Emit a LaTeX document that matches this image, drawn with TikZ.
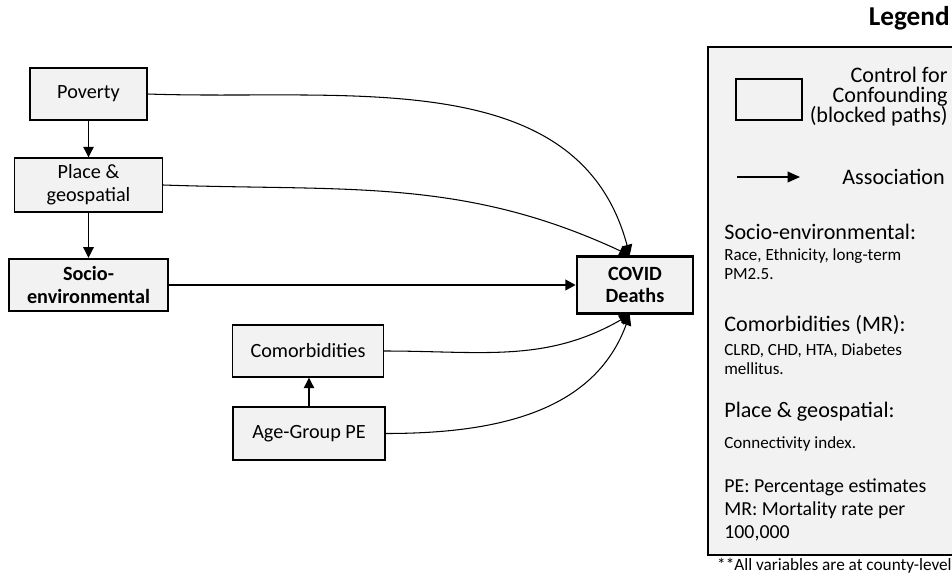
\documentclass[tikz,border=0pt]{standalone}
\usepackage{fontspec}
\setmainfont{Carlito}
\usetikzlibrary{arrows.meta}
\definecolor{boxgray}{HTML}{F2F2F2}

\begin{document}
\begin{tikzpicture}[x=0.02cm,y=0.02cm,
    var/.style={draw, fill=boxgray, line width=0.8pt, align=center, inner sep=0pt,
      font=\fontsize{11.5}{13}\selectfont},
    keyvar/.style={var, line width=1.4pt, font=\fontsize{11.5}{13}\selectfont\bfseries},
    link/.style={-{Triangle[length=6pt,width=6pt]}, line width=0.6pt},
    big/.style={font=\fontsize{12.6}{11.4}\selectfont, inner sep=0pt},
    small/.style={font=\fontsize{9.7}{10.5}\selectfont, inner sep=0pt, align=left}]

      \useasboundingbox (0,0) rectangle (952,576);

      % variables
      \node[var, minimum width=2.34cm, minimum height=1.04cm] (pov) at (88.5,482) {Poverty};
      \node[var, minimum width=2.96cm, minimum height=1.08cm] (place) at (88.5,391) {Place \&\\geospatial};
      \node[keyvar, minimum width=3.18cm, minimum height=1.04cm] (socio) at (88.5,291) {Socio-\\environmental};
      \node[keyvar, minimum width=2.32cm, minimum height=1.14cm] (cd) at (635,291) {COVID\\Deaths};
      \node[var, minimum width=3.02cm, minimum height=1.04cm] (comor) at (308,225) {Comorbidities};
      \node[var, minimum width=3.04cm, minimum height=1.06cm] (age) at (309,142.5) {Age-Group PE};

      \draw[link] (pov) -- (place);
      \draw[link] (place) -- (socio);
      \draw[link] (age) -- (age |- comor.south);
      \draw[link, line width=1.4pt] (socio) -- (cd);
      \draw[link] (pov.east) to[out=-2, in=105] ([xshift=-3]cd.north);
      \draw[link] (place.east) to[out=-2, in=155] ([xshift=-3]cd.north);
      \draw[link] (comor.east) to[out=0, in=-150] ([xshift=-3]cd.south);
      \draw[link] (age.east) to[out=0, in=-110] ([xshift=-3]cd.south);

      % legend
      \node[anchor=east, inner sep=0pt, font=\fontsize{15.5}{17}\selectfont\bfseries] (title) at (950,558) {Legend};
      \draw[fill=boxgray, line width=0.8pt] (708,529) rectangle (970,21);
      \node[draw, fill=boxgray, line width=0.8pt, minimum width=1.32cm, minimum height=0.82cm] (keybox) at (769,476.5) {};
      \node[big, anchor=east, align=right] (confound) at (948,479) {Control for\\Confounding\\(blocked paths)};
      \coordinate (keyA) at (737,399);
      \coordinate (keyB) at (800,399);
      \draw[-{Triangle[length=7pt,width=6pt]}, line width=1pt] (keyA) -- (keyB);
      \node[big, anchor=east] (assoc) at (945,399) {Association};

      \node[big, anchor=west] (socioH) at (724,344) {Socio-environmental:};
      \node[small, anchor=west] (socioT) at (724,312) {Race, Ethnicity, long-term\\PM2.5.};
      \node[big, anchor=west] (comorH) at (724,251) {Comorbidities (MR):};
      \node[small, anchor=west] (comorT) at (724,217) {CLRD, CHD, HTA, Diabetes\\mellitus.};
      \node[big, anchor=west] (placeH) at (724,164) {Place \& geospatial:};
      \node[small, anchor=west] (placeT) at (724,132) {Connectivity index.};
      \node[anchor=west, inner sep=0pt, align=left, font=\fontsize{11.3}{13}\selectfont] (abbr) at (724,66)
        {PE: Percentage estimates\\MR: Mortality rate per\\100,000};
      \node[anchor=east, inner sep=0pt, font=\fontsize{9.8}{11}\selectfont] (note) at (952,10)
        {**All variables are at county-level};

    \end{tikzpicture}
\end{document}
